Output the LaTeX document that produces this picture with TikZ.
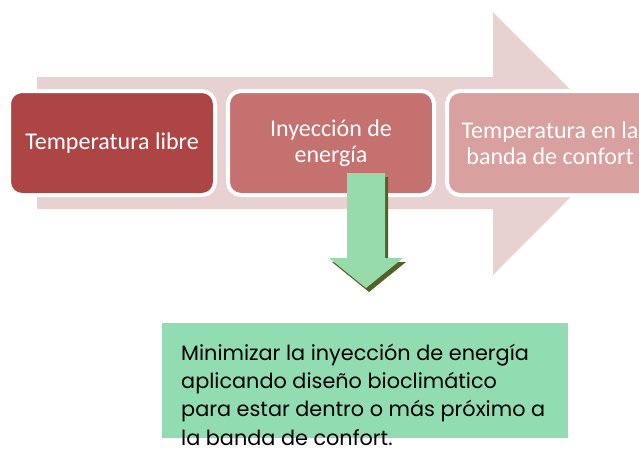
\documentclass[tikz,border=0pt]{standalone}
\usepackage{fontspec}
\setmainfont{Carlito}
\newfontfamily\gothic{Poppins}
\usepackage{tikz}
\usetikzlibrary{positioning}

\definecolor{flowpink}{HTML}{E8D1D1}
\definecolor{stepone}{HTML}{AE4545}
\definecolor{steptwo}{HTML}{C4716F}
\definecolor{stepthree}{HTML}{D8A09F}
\definecolor{dropgreen}{HTML}{98DBAA}
\definecolor{dropshade}{HTML}{4F6228}
\definecolor{notegreen}{HTML}{91DCB1}

\begin{document}
\begin{tikzpicture}[
        x=1pt, y=-1pt,
        stage/.style={draw=white, line width=4pt, rounded corners=13pt, outer sep=0pt,
            minimum width=206pt, minimum height=104pt, align=center,
            text=white, font=\fontsize{24}{26}\selectfont},
        note/.style={fill=notegreen, minimum width=406pt, minimum height=115pt, outer sep=0pt},
    ]
        \clip (0,0) rectangle (639,448);

        % Big background arrow
        \fill[flowpink] (37,77) -- (493,77) -- (493,12) -- (624,143.5) -- (493,275) -- (493,209) -- (37,209) -- cycle;

        % Steps
        \node (libre) [stage, fill=stepone] at (112,143) {Temperatura libre};
        \node (inyeccion) [stage, fill=steptwo, right=13pt of libre] {Inyección de\\energía};
        \node (banda) [stage, fill=stepthree, right=13pt of inyeccion] {Temperatura en la\\banda de confort};

        % Note box
        \node (meta) [note] at (365,380.5) {};

        % Down arrow (shadow first)
        \fill[dropshade] (349,177) -- (388,177) -- (388,262) -- (406,262) -- (369,292) -- (332,262) -- (349,262) -- cycle;
        \fill[dropgreen] (347,173) -- (385,173) -- (385,258) -- (403,258) -- (366,288) -- (329,258) -- (347,258) -- cycle;

        \node (metatext) [anchor=north west, inner sep=0pt, align=left,
            font=\gothic\fontsize{20.8}{28.3}\selectfont] at (181,343.5) {Minimizar la inyección de energía\\aplicando diseño bioclimático\\para estar dentro o más próximo a\\la banda de confort.};
    \end{tikzpicture}
\end{document}
